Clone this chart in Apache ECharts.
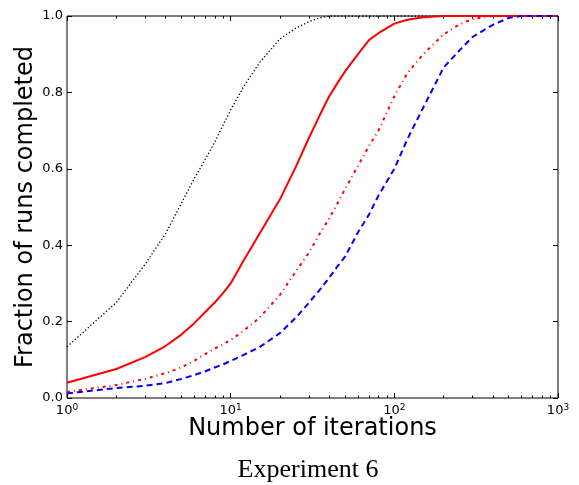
<!DOCTYPE html>
<html lang="en">
<head>
  <meta charset="UTF-8">
  <script src="https://cdn.jsdelivr.net/npm/echarts@6/dist/echarts.min.js"></script>
  <title>Experiment 6</title>
  <style>
    html, body { margin: 0; padding: 0; background: #fff; }
  </style>
</head>
<body>
  <div id="main" style="width: 579px;height:485px;"></div>
  <script type="text/javascript">
    // iterations (log x axis)
    var iterations = [1, 2, 3, 4, 5, 6, 7, 8, 9, 10, 12, 15, 20, 25, 30, 35, 40, 45, 50, 60, 70, 80, 100, 120, 150, 200, 250, 300, 400, 500, 600, 700, 800, 1000];
    // fraction of runs completed, one list per curve
    var blackDotted = [0.134, 0.25, 0.35, 0.43, 0.51, 0.575, 0.625, 0.67, 0.715, 0.754, 0.815, 0.878, 0.94, 0.968, 0.985, 0.995, 1.0, 1.0, 1.0, 1.0, 1.0, 1.0, 1.0, 1.0, 1.0, 1.0, 1.0, 1.0, 1.0, 1.0, 1.0, 1.0, 1.0, 1.0];
    var redSolid = [0.04, 0.076, 0.107, 0.136, 0.166, 0.196, 0.225, 0.25, 0.275, 0.30, 0.36, 0.43, 0.52, 0.605, 0.68, 0.74, 0.79, 0.825, 0.855, 0.9, 0.937, 0.955, 0.98, 0.99, 0.997, 1.0, 1.0, 1.0, 1.0, 1.0, 1.0, 1.0, 1.0, 1.0];
    var redDashDot = [0.016, 0.034, 0.05, 0.065, 0.08, 0.098, 0.115, 0.13, 0.14, 0.152, 0.176, 0.21, 0.27, 0.331, 0.38, 0.43, 0.47, 0.51, 0.547, 0.608, 0.66, 0.70, 0.79, 0.85, 0.90, 0.952, 0.978, 0.992, 1.0, 1.0, 1.0, 1.0, 1.0, 1.0];
    var blueDashed = [0.012, 0.026, 0.032, 0.039, 0.05, 0.06, 0.07, 0.08, 0.088, 0.097, 0.113, 0.133, 0.17, 0.21, 0.249, 0.283, 0.315, 0.345, 0.37, 0.434, 0.48, 0.53, 0.60, 0.677, 0.76, 0.865, 0.91, 0.945, 0.977, 0.995, 1.0, 1.0, 1.0, 1.0];
    var yTicks = [0, 0.2, 0.4, 0.6, 0.8, 1.0];
    var minorTicks = [2, 3, 4, 5, 6, 7, 8, 9, 20, 30, 40, 50, 60, 70, 80, 90, 200, 300, 400, 500, 600, 700, 800, 900];

    var myChart = echarts.init(document.getElementById('main'), null, { renderer: 'canvas' });

    function pairs(ys) {
      return iterations.map(function (x, i) { return [x, ys[i]]; });
    }

    var sans = 'DejaVu Sans';
    var tickMajor = { show: true, inside: true, length: 5, lineStyle: { color: '#000', width: 1 } };
    var tickMinor = { show: true, inside: true, length: 2.5, customValues: minorTicks, lineStyle: { color: '#000', width: 1 } };

    var option = {
      animation: false,
      backgroundColor: '#fff',
      title: {
        text: 'Experiment 6',
        left: 303,
        textAlign: 'center',
        top: 452,
        textStyle: { fontFamily: 'Liberation Serif', fontWeight: 'normal', fontSize: 26, color: '#000' }
      },
      grid: { left: 67, right: 21, top: 16, bottom: 87, show: true, borderColor: '#000', borderWidth: 1, backgroundColor: 'transparent' },
      xAxis: [
        {
          type: 'log', logBase: 10, min: 1, max: 1000, position: 'bottom',
          name: 'Number of iterations', nameLocation: 'middle', nameGap: 19, nameMoveOverlap: false,
          nameTextStyle: { fontFamily: sans, fontSize: 24, color: '#000' },
          axisLine: { show: false }, splitLine: { show: false },
          axisTick: tickMajor,
          axisLabel: {
            margin: 5,
            formatter: function (v) { return '{b|10}{e|' + Math.round(Math.log10(v)) + '}'; },
            rich: {
              b: { fontFamily: sans, fontSize: 13, color: '#000', verticalAlign: 'bottom' },
              e: { fontFamily: sans, fontSize: 9, color: '#000', verticalAlign: 'top', padding: [0, 0, 5, 0] }
            }
          }
        },
        { type: 'log', logBase: 10, min: 1, max: 1000, position: 'bottom', axisLine: { show: false }, splitLine: { show: false }, axisLabel: { show: false }, axisTick: tickMinor },
        { type: 'log', logBase: 10, min: 1, max: 1000, position: 'top', axisLine: { show: false }, splitLine: { show: false }, axisLabel: { show: false }, axisTick: tickMajor },
        { type: 'log', logBase: 10, min: 1, max: 1000, position: 'top', axisLine: { show: false }, splitLine: { show: false }, axisLabel: { show: false }, axisTick: tickMinor }
      ],
      yAxis: [
        {
          type: 'value', min: 0, max: 1, interval: 0.2, position: 'left',
          name: 'Fraction of runs completed', nameLocation: 'middle', nameGap: 29, nameMoveOverlap: false,
          nameTextStyle: { fontFamily: sans, fontSize: 24, color: '#000' },
          axisLine: { show: false }, splitLine: { show: false },
          axisTick: tickMajor,
          axisLabel: {
            margin: 4, fontFamily: sans, fontSize: 13, color: '#000',
            customValues: yTicks,
            formatter: function (v) { return v.toFixed(1); }
          }
        },
        { type: 'value', min: 0, max: 1, interval: 0.2, position: 'right', axisLine: { show: false }, splitLine: { show: false }, axisLabel: { show: false }, axisTick: tickMajor }
      ],
      series: [
        { type: 'line', data: pairs(blackDotted), showSymbol: false, symbol: 'none', lineStyle: { color: '#000', width: 1.3, type: [1.3, 2.2] } },
        { type: 'line', data: pairs(redSolid), showSymbol: false, symbol: 'none', lineStyle: { color: '#ff0000', width: 2 } },
        { type: 'line', data: pairs(redDashDot), showSymbol: false, symbol: 'none', lineStyle: { color: '#ff0000', width: 2, type: [3, 4, 1, 4] } },
        { type: 'line', data: pairs(blueDashed), showSymbol: false, symbol: 'none', lineStyle: { color: '#0000ff', width: 2, type: [6, 4] } }
      ]
    };
    myChart.setOption(option);
  </script>
</body>
</html>
